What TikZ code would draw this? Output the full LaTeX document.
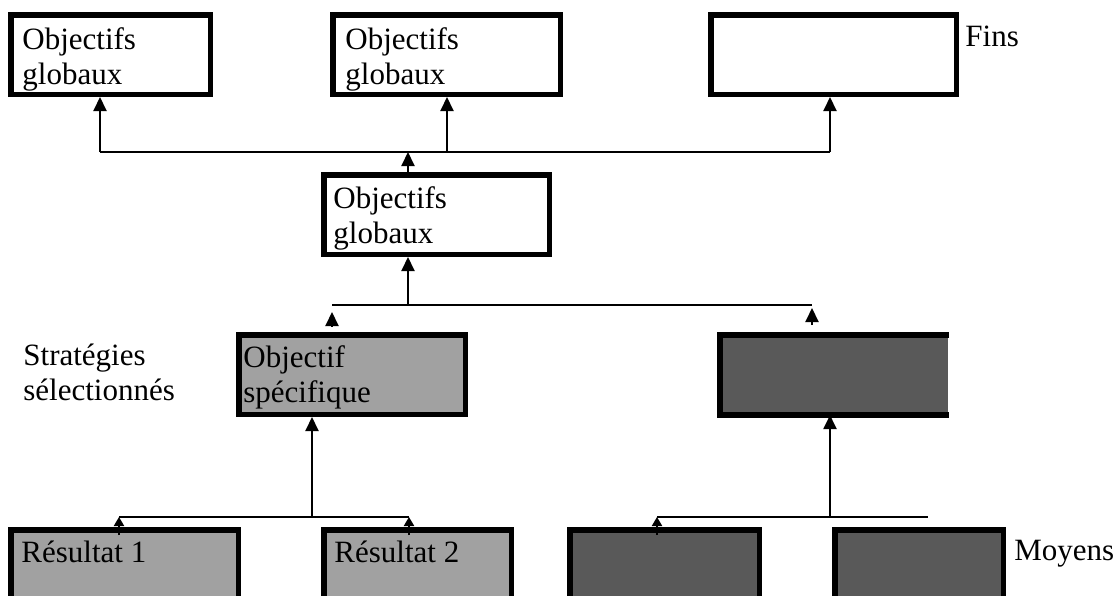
\documentclass[tikz,border=0pt]{standalone}
\usepackage{fontspec}
\setmainfont{Liberation Serif}
\usetikzlibrary{arrows.meta,positioning,calc}

\tikzset{
  cadre/.style={draw, line width=2.75pt, inner sep=0pt, anchor=north west},
  taille/.style 2 args={minimum width={(#1-5.5)*0.5pt}, minimum height={(#2-5.5)*0.5pt}},
  clair/.style={fill=black!37},
  fonce/.style={fill=black!65},
  texte/.style={font=\fontsize{15.5}{17.5}\selectfont, align=left, inner sep=0pt, anchor=north west},
  lien/.style={line width=1pt},
  fleche/.style={line width=1pt, -{Triangle[width=6.5pt,length=7pt]}},
  petite/.style={line width=1pt, -{Triangle[width=5pt,length=4.5pt]}},
}

\begin{document}
\begin{tikzpicture}[x=0.5pt,y=-0.5pt]
    \useasboundingbox (0,0) rectangle (1120,595);
    \clip (0,0) rectangle (1120,595);

    % Fins
    \node[cadre, taille={205}{85}] (og1) at (8,12) {};
    \node[texte] (tog1) at (22,27) {Objectifs\\globaux};
    \node[cadre, taille={233}{85}] (og2) at (330,12) {};
    \node[texte] (tog2) at (345,27) {Objectifs\\globaux};
    \node[cadre, taille={251}{85}] (og0) at (708,12) {};
    \node[texte] (fins) at (965,26) {Fins};

    % Objectif global retenu
    \node[cadre, taille={231}{85}] (og3) at (321,172) {};
    \node[texte] (tog3) at (333,186) {Objectifs\\globaux};

    % Strategies
    \node[texte] (strat) at (23,344) {Stratégies\\sélectionnés};
    \node[cadre, clair, taille={232}{85}] (os) at (236,332) {};
    \node[texte] (tos) at (243,345) {Objectif\\spécifique};
    \node[fonce, inner sep=0pt, anchor=north west, minimum width=114.1pt, minimum height=39.75pt] (of) at (719.75,334.75) {};
    \draw[line width=2.75pt] (of.north east) -- (of.north west) -- (of.south west) -- (of.south east);

    % Moyens
    \node[cadre, clair, taille={233}{120}] (r1) at (8,527) {};
    \node[texte] (tr1) at (21,541) {Résultat 1};
    \node[cadre, clair, taille={193}{120}] (r2) at (321,527) {};
    \node[texte] (tr2) at (334,541) {Résultat 2};
    \node[cadre, fonce, taille={195}{120}] (r3) at (567,527) {};
    \node[cadre, fonce, taille={174}{120}] (r4) at (832,527) {};
    \node[texte] (moy) at (1014,540) {Moyens};

    % liaisons du haut
    \coordinate (h1) at (100,152);
    \coordinate (h2) at (447,152);
    \coordinate (h3) at (830,152);
    \draw[lien] (h1) -- (h3);
    \draw[fleche] (h1) -- (h1 |- og1.south);
    \draw[fleche] (h2) -- (h2 |- og2.south);
    \draw[fleche] (h3) -- (h3 |- og0.south);
    \coordinate (h4) at (408,152);
    \draw[fleche] (h4 |- og3.north) -- (h4);

    % liaisons du milieu
    \coordinate (m1) at (332,305);
    \coordinate (m2) at (812,305);
    \coordinate (m3) at (408,305);
    \draw[lien] (m1) -- (m2);
    \draw[fleche] (m3) -- (m3 |- og3.south);
    \draw[fleche] ($(m1)+(0,21)$) -- ($(m1)+(0,7)$);
    \draw[fleche] ($(m2)+(0,20)$) -- ($(m2)+(0,3)$);

    % liaisons du bas
    \coordinate (b1) at (119,517);
    \coordinate (b2) at (409,517);
    \coordinate (b3) at (312,517);
    \draw[lien] (b1) -- (b2);
    \draw[fleche] (b3) -- (b3 |- os.south);
    \draw[petite] ($(b1 |- r1.north)+(0,8)$) -- (b1);
    \draw[petite] ($(b2 |- r2.north)+(0,8)$) -- (b2);
    \coordinate (b4) at (657,517);
    \coordinate (b5) at (928,517);
    \coordinate (b6) at (830,517);
    \draw[lien] (b4) -- (b5);
    \draw[fleche] (b6) -- (b6 |- of.south);
    \draw[petite] ($(b4 |- r3.north)+(0,8)$) -- (b4);
\end{tikzpicture}
\end{document}
